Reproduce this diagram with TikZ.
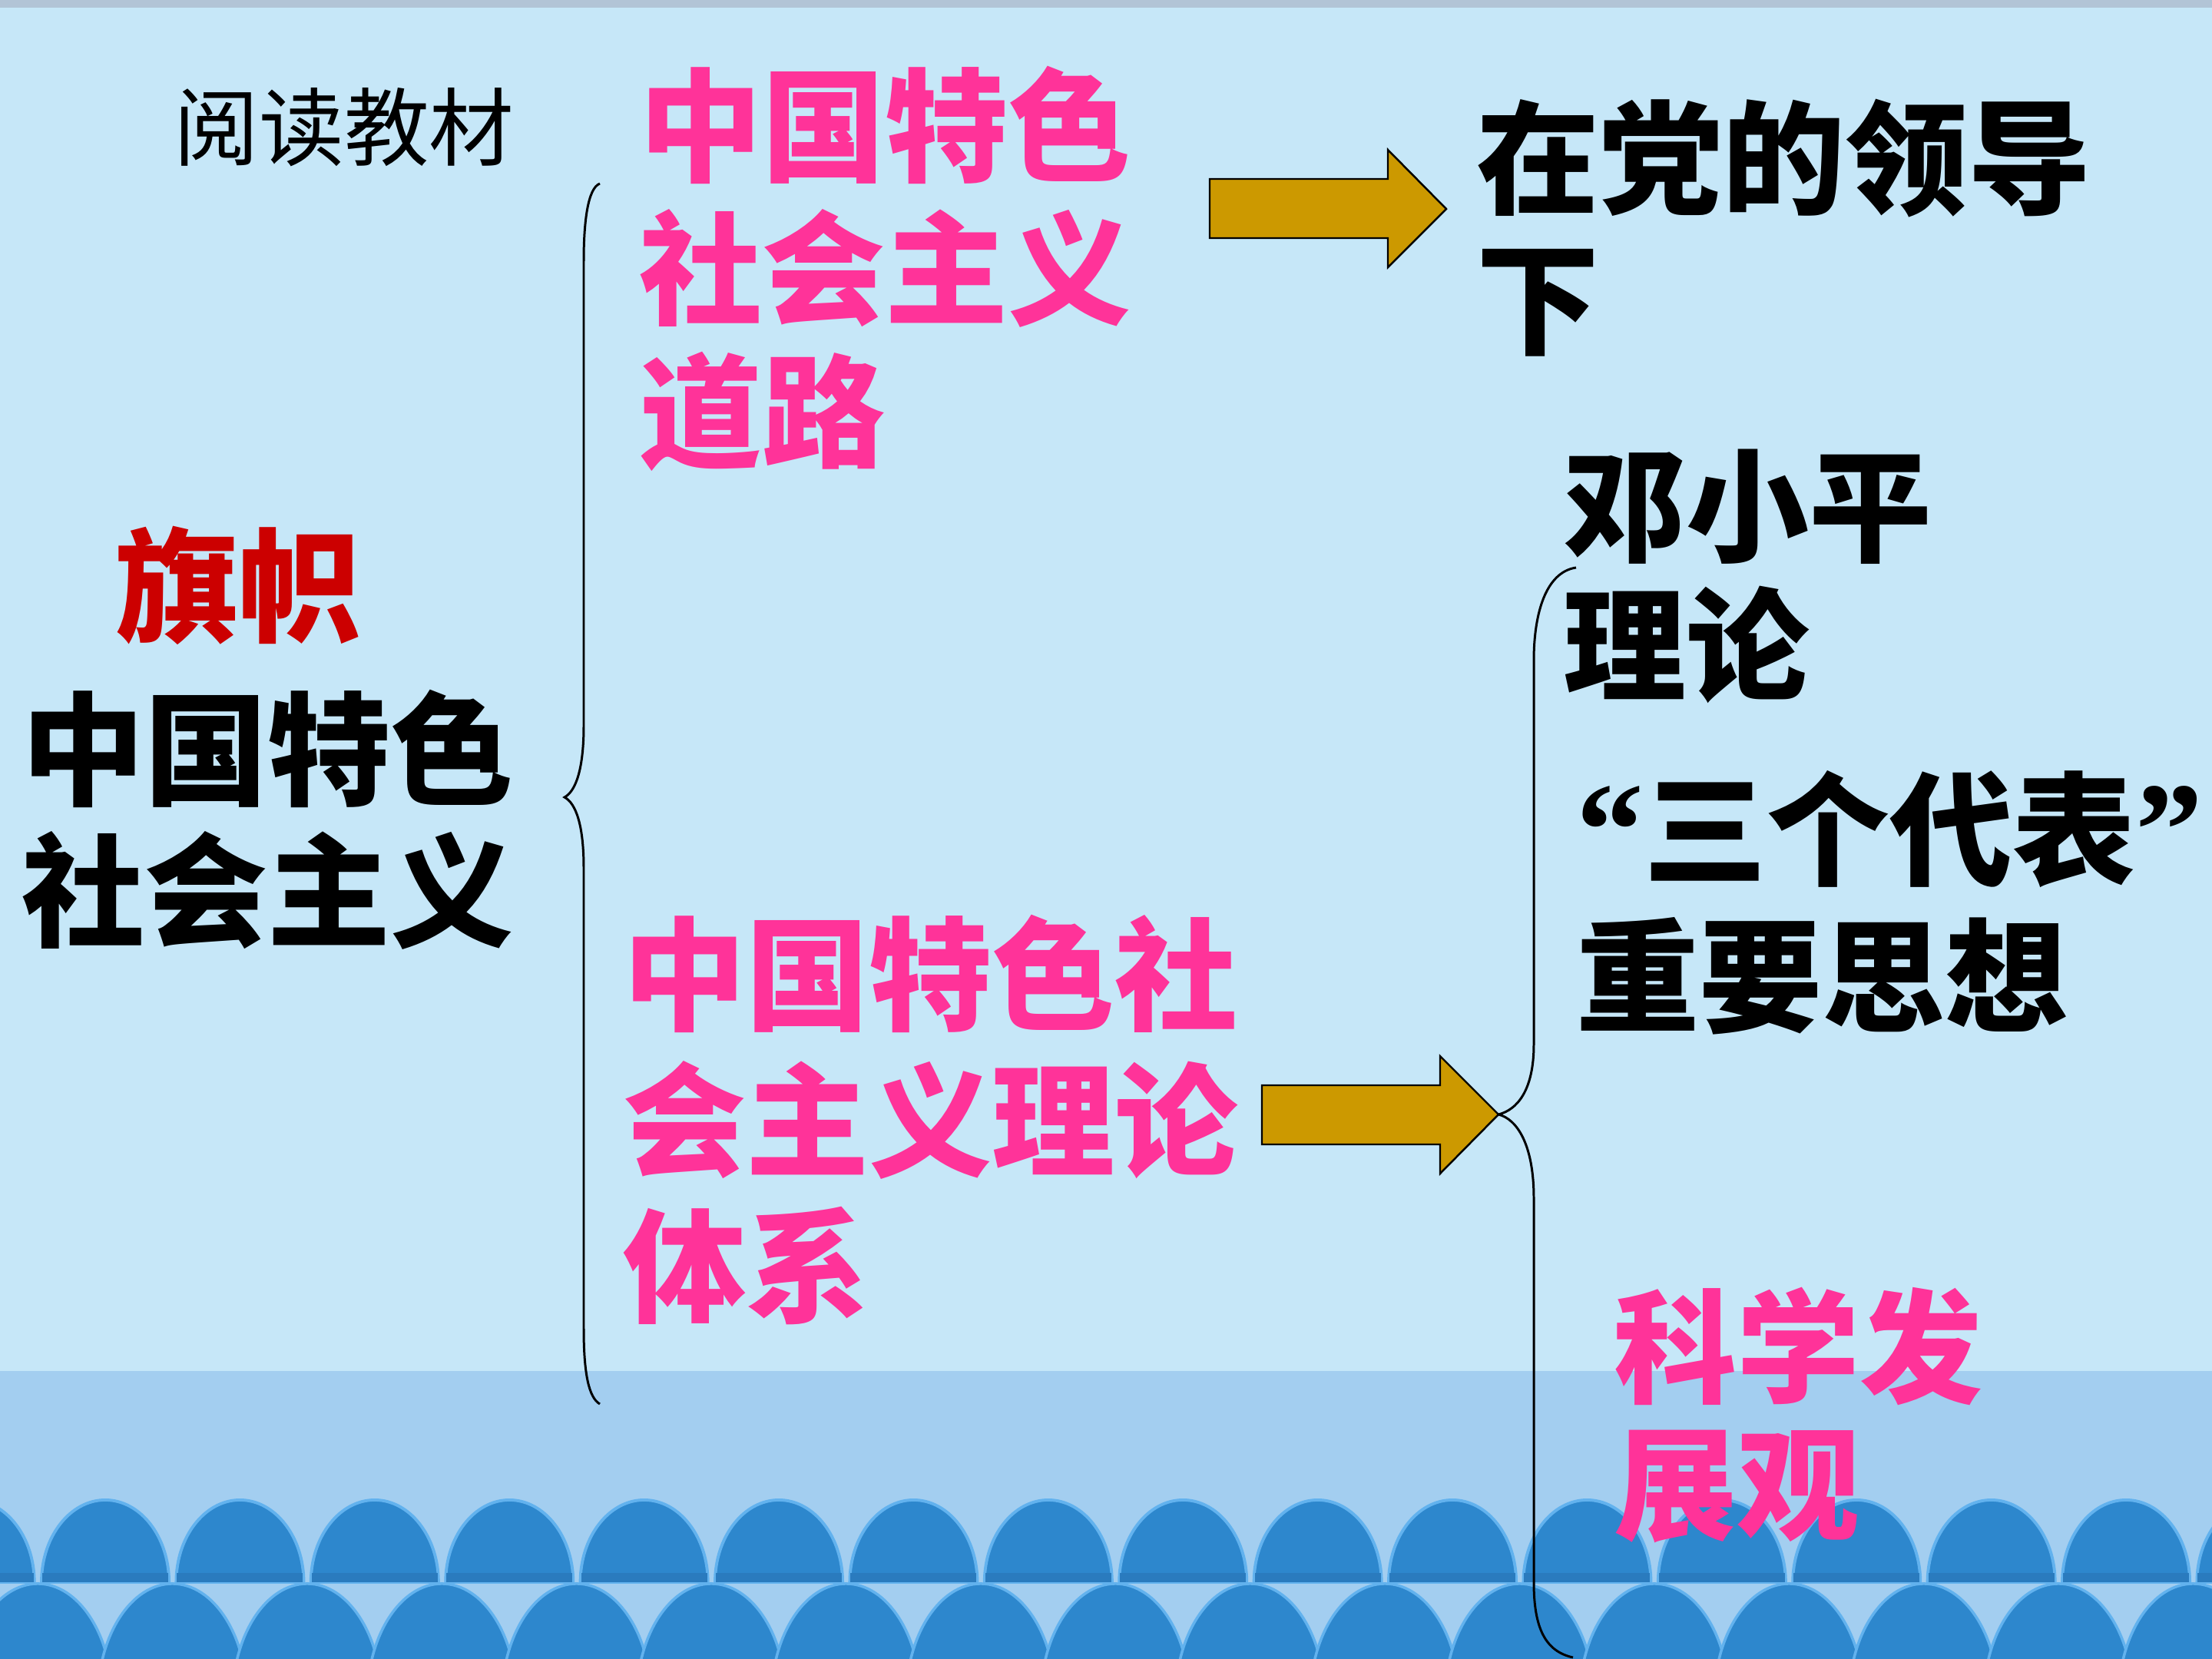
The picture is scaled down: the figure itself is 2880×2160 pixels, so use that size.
\documentclass[tikz,border=0pt]{standalone}
\usepackage{fontspec}
\newfontfamily\cjk{Noto Sans CJK SC}
\newfontfamily\lat{Liberation Serif}
\definecolor{bgtop}{HTML}{C6E7F8}
\definecolor{bgstrip}{HTML}{B2C4D6}
\definecolor{bgband}{HTML}{A3CEF0}
\definecolor{wave}{HTML}{2D87CD}
\definecolor{wavedark}{HTML}{2A7BBE}
\definecolor{halo}{HTML}{62B2EE}
\definecolor{pinktxt}{HTML}{FF3399}
\definecolor{redtxt}{HTML}{CC0000}
\definecolor{gold}{HTML}{CC9900}
\tikzset{
  big/.style={inner sep=0pt, anchor=west, align=left, font=\cjk\bfseries\fontsize{45.5}{53}\selectfont},
  pinkbig/.style={big, text=pinktxt},
  blackbig/.style={big, text=black},
  bracket/.style={draw=black, line width=0.85pt},
  blockarrow/.style={draw=black, line width=0.7pt, fill=gold, line join=miter},
}
\begin{document}
\begin{tikzpicture}[x=0.01cm, y=-0.01cm]
\useasboundingbox (0,0) rectangle (2880,2160);
% background
\fill[bgtop] (0,0) rectangle (2880,2160);
\fill[bgstrip] (0,0) rectangle (2880,10);
\fill[bgband] (0,1785) rectangle (2880,2160);
\begin{scope}
\clip (0,0) rectangle (2880,2160);
\foreach \k in {-1,...,17} {
  \pgfmathsetmacro\cx{137+175.4*\k}
  \filldraw[fill=wave, draw=halo, line width=1.1pt] (\cx-83,2060) arc[start angle=180, end angle=0, x radius=0.83cm, y radius=1.07cm] -- cycle;
  \fill[wavedark] (\cx-82,2048) rectangle (\cx+82,2060);
}
\foreach \k in {-1,...,17} {
  \pgfmathsetmacro\cx{49+175.4*\k}
  \filldraw[fill=wave, draw=halo, line width=1.0pt] (\cx-97,2212) arc[start angle=180, end angle=0, x radius=0.97cm, y radius=1.5cm] -- cycle;
}
\end{scope}

% texts
\node[inner sep=0pt, font=\cjk\fontsize{31.5}{36}\selectfont] (read) at (448,166) {阅读教材};
\node[pinkbig, font=\cjk\bfseries\fontsize{45.5}{52.8}\selectfont] (road) at (832,350) {中国特色\\社会主义\\道路};
\node[blackbig, font=\cjk\bfseries\fontsize{45.5}{52}\selectfont] (party) at (1922,297) {在党的领导\\下};
\node[big, text=redtxt] (flag) at (150,762) {旗帜};
\node[blackbig, font=\cjk\bfseries\fontsize{45.5}{52.4}\selectfont] (socialism) at (28,1067) {中国特色\\社会主义};
\node[blackbig, font=\cjk\bfseries\fontsize{45.5}{51.5}\selectfont] (deng) at (2035,750) {邓小平\\理论};
\node[blackbig, font=\cjk\bfseries\fontsize{45.5}{54.3}\selectfont] (three) at (2052,1175) {{\lat\bfseries\fontsize{50}{54}\selectfont “}三个代表{\lat\bfseries\fontsize{50}{54}\selectfont ”}\\重要思想};
\node[pinkbig, font=\cjk\bfseries\fontsize{45.5}{50.6}\selectfont] (sci) at (2101,1843) {科学发\\展观};
\node[pinkbig, font=\cjk\bfseries\fontsize{45.5}{54}\selectfont] (theory) at (811,1458) {中国特色社\\会主义理论\\体系};

% left brace
\coordinate (lbtop) at (781,239);
\coordinate (lbtip) at (735,1038);
\coordinate (lbbot) at (781,1828);
\draw[bracket] (lbtop) .. controls (765,245) and (760,290) .. (760,340)
  -- (760,945) .. controls (760,1000) and (750,1030) .. (lbtip)
  .. controls (750,1046) and (760,1075) .. (760,1130)
  -- (760,1730) .. controls (760,1790) and (767,1820) .. (lbbot);

% right brace
\coordinate (rbtop) at (2052,739);
\coordinate (rbtip) at (1951,1451);
\coordinate (rbbot) at (2048,2158);
\draw[bracket] (rbtop) .. controls (2012,745) and (1997,800) .. (1997,860)
  -- (1997,1360) .. controls (1997,1420) and (1975,1445) .. (rbtip)
  .. controls (1975,1457) and (1997,1490) .. (1997,1560)
  -- (1997,2060) .. controls (1997,2120) and (2012,2150) .. (rbbot);

% block arrows
\coordinate (a1tip) at (1883,272);
\draw[blockarrow] (1575,233) -- (1807,233) -- (1807,195) -- (a1tip) -- (1807,348) -- (1807,310) -- (1575,310) -- cycle;
\draw[blockarrow] (1643,1413) -- (1875,1413) -- (1875,1375) -- (rbtip) -- (1875,1528) -- (1875,1490) -- (1643,1490) -- cycle;
\end{tikzpicture}
\end{document}
